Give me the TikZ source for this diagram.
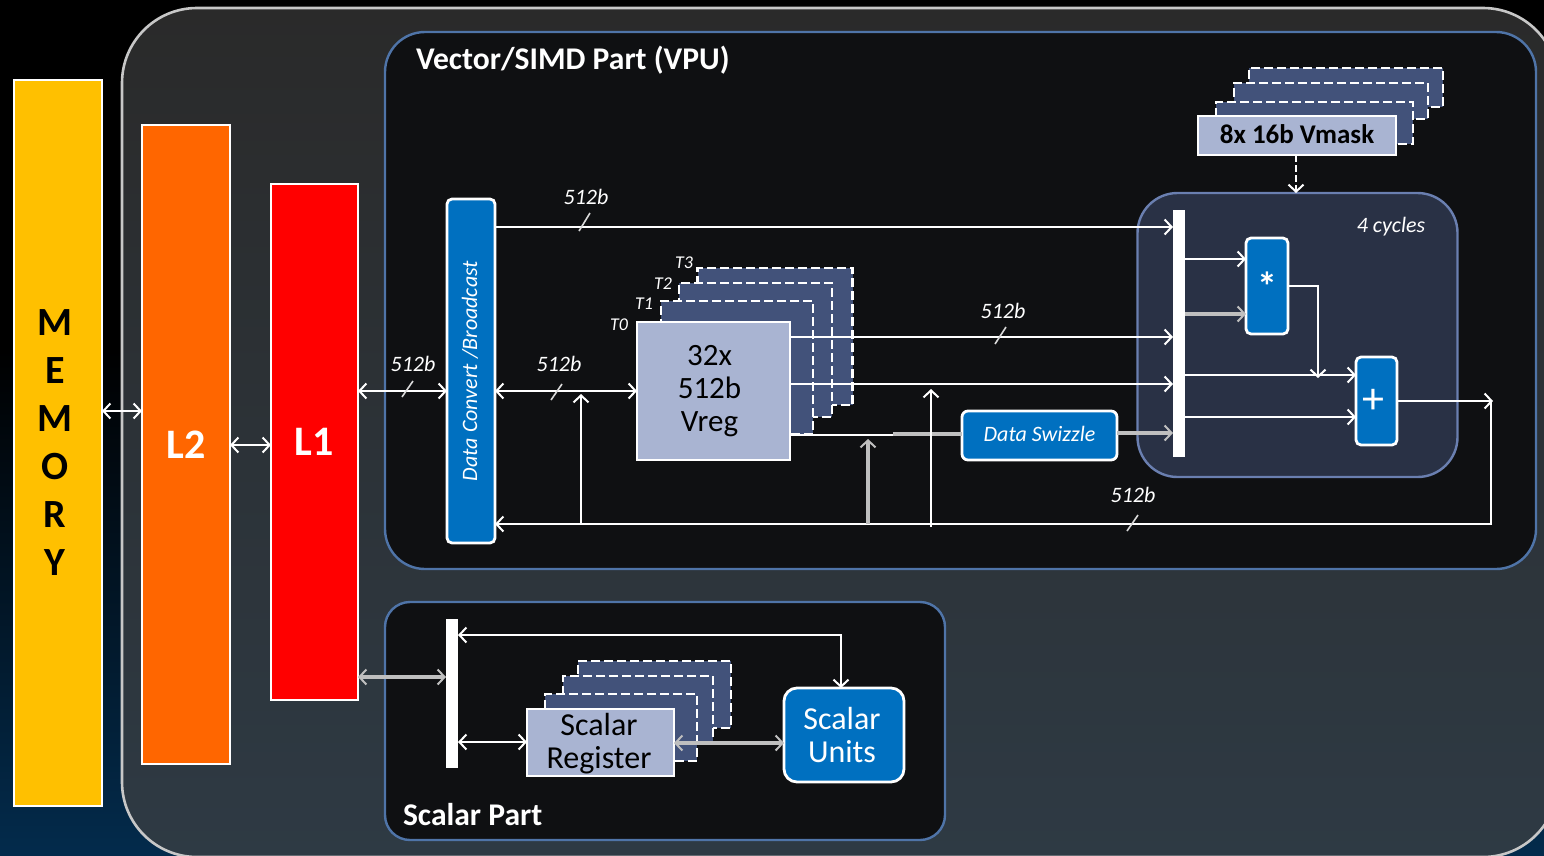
\documentclass[tikz,border=0pt]{standalone}
\usepackage{fontspec}
\setmainfont{Carlito}
\usetikzlibrary{arrows.meta,positioning}
\definecolor{simdgold}{HTML}{FFC000}
\definecolor{simdorange}{HTML}{FF6600}
\definecolor{simdred}{HTML}{FF0000}
\definecolor{simdblue}{HTML}{0070C0}
\definecolor{simdreg}{HTML}{A9B4D2}
\definecolor{simdstack}{HTML}{42527A}
\definecolor{simdpanel}{HTML}{0F1012}
\definecolor{simdedge}{HTML}{4F74A8}
\definecolor{simdfu}{HTML}{293145}
\definecolor{simdfuedge}{HTML}{6A7FB0}
\definecolor{simdcoretop}{HTML}{2A2A2A}
\definecolor{simdcorebot}{HTML}{2E3A44}
\definecolor{simdnavy}{HTML}{032B4C}
\tikzset{
  simd/.style={font=\fontsize{12}{14}\selectfont, text=white, inner sep=0pt, outer sep=0pt},
  bsize/.style 2 args={minimum width=#1pt, minimum height=#2pt},
  cachebox/.style={draw=white, line width=2.6pt, text=white, font=\fontsize{42}{46}\selectfont\bfseries},
  panelbox/.style={draw=simdedge, line width=2.4pt, fill=simdpanel},
  regbox/.style={draw=white, line width=2.8pt, fill=simdreg, text=black, align=center},
  stackbox/.style={draw=white, line width=2.8pt, dash pattern=on 9pt off 4pt, fill=simdstack},
  unitbox/.style={draw=white, line width=2.8pt, fill=simdblue, rounded corners=5pt, text=white, align=center},
  muxbar/.style={fill=white},
  wirearr/.style={-{Straight Barb[length=7pt,width=15pt,line width=2pt]}, line width=2.8pt, draw=white},
  wirebi/.style={{Straight Barb[length=7pt,width=15pt,line width=2pt]}-{Straight Barb[length=7pt,width=15pt,line width=2pt]}, line width=2.8pt, draw=white},
  wirefat/.style={line width=4pt, draw=white!75!black},
  wireplain/.style={line width=2.8pt, draw=white},
  buslbl/.style={font=\fontsize{22}{24}\selectfont\itshape},
  tlbl/.style={font=\fontsize{18}{20}\selectfont\itshape},
  titlelbl/.style={font=\fontsize{31.6}{34}\selectfont\bfseries, anchor=west},
  bustick/.style={line width=1.6pt, draw=white!85!black},
}
\begin{document}
\begin{tikzpicture}[simd, x=1pt, y=-1pt]
  \useasboundingbox (0,0) rectangle (1544,855);
  \clip (0,0) rectangle (1544,855);
  \fill[black] (0,0) rectangle (1544,351);
  \shade[top color=black, bottom color=simdnavy] (0,350) rectangle (1544,855);
  \node[bsize={1436}{849}, anchor=north west, rounded corners=75pt, draw=white!78!black, line width=2.6pt,
    top color=simdcoretop, bottom color=simdcorebot] (core) at (122,8) {};

  \node[cachebox, bsize={88}{726}, fill=simdgold] (mem) at (58,443) {};
  \node[align=center, text=black, font=\fontsize{40}{48}\selectfont\bfseries] (memtxt) at (55,443) {M\\E\\M\\O\\R\\Y};
  \node[cachebox, bsize={88}{639}, fill=simdorange] (ltwo) at (186,444.5) {L2\hspace{4pt}};
  \node[cachebox, bsize={87}{516}, fill=simdred] (lone) at (314.5,442) {L1\hspace{4pt}};

  \node[panelbox, bsize={1151}{537}, rounded corners=40pt] (vpu) at (960.5,300.5) {};
  \node[panelbox, bsize={560}{238}, rounded corners=25pt] (scalar) at (665,721) {};
  \node[titlelbl] (vputitle) at (416,60) {Vector/SIMD Part (VPU)};
  \node[titlelbl] (scalartitle) at (403,815) {Scalar Part};

  \node[draw=simdfuedge, line width=2.4pt, fill=simdfu, rounded corners=40pt, bsize={320}{284}] (fu) at (1297.5,335) {};
  \node[buslbl] (cycles) at (1391,227) {4 cycles};

  \node[unitbox, bsize={48}{344}] (conv) at (471,371) {};
  \node[rotate=90, font=\fontsize{22}{24}\selectfont\itshape] (convtxt) at (470,371) {Data Convert /Broadcast};

  \node[stackbox, bsize={155}{137}] (vthree) at (775,336.5) {};
  \node[stackbox, bsize={153}{134}] (vtwo) at (755.5,350) {};
  \node[stackbox, bsize={152}{133}] (vone) at (737,367.5) {};
  \node[regbox, bsize={153}{138}] (vreg) at (713.5,391) {};
  \node[align=center, text=black, font=\fontsize{31}{33}\selectfont] (vregtxt) at (709.5,391) {32x\\512b\\Vreg};
  \node[tlbl] (tthree) at (684,263) {T3};
  \node[tlbl] (ttwo) at (663,284) {T2};
  \node[tlbl] (tone) at (644,304) {T1};
  \node[tlbl] (tzero) at (619,325) {T0};

  \node[stackbox, bsize={194}{39}] (mthree) at (1346,87.5) {};
  \node[stackbox, bsize={194}{36}] (mtwo) at (1331,101) {};
  \node[stackbox, bsize={197}{42}] (mone) at (1314.5,123) {};
  \node[regbox, bsize={198}{39}, font=\fontsize{27}{29}\selectfont\bfseries] (vmask) at (1297,135.5) {\raisebox{2pt}{8x 16b Vmask}};

  \node[muxbar, bsize={12}{247}] (muxv) at (1179,333.5) {};
  \node[unitbox, bsize={42}{96}, font=\fontsize{40}{42}\selectfont\bfseries] (mul) at (1267,286) {\raisebox{-8pt}{*}};
  \node[unitbox, bsize={41}{88}, font=\fontsize{44}{46}\selectfont] (add) at (1376.5,401) {\raisebox{-3pt}{+}\hspace{6pt}};
  \node[unitbox, bsize={155}{49}, rounded corners=6pt, font=\fontsize{22}{24}\selectfont\itshape] (swiz) at (1039.5,435.5) {\raisebox{3pt}{Data Swizzle}};

  \node[muxbar, bsize={12}{149}] (muxs) at (452,693.5) {};
  \node[stackbox, bsize={153}{67}] (sthree) at (654.5,694.5) {};
  \node[stackbox, bsize={150}{67}] (stwo) at (638,709.5) {};
  \node[stackbox, bsize={152}{67}] (sone) at (621,727.5) {};
  \node[regbox, bsize={147}{67}] (sreg) at (600.5,742.5) {};
  \node[align=center, text=black, font=\fontsize{32}{33}\selectfont] (sregtxt) at (599,744) {Scalar\\Register};
  \node[unitbox, bsize={120}{94}, rounded corners=13pt] (sunits) at (844,735) {};
  \node[align=center, font=\fontsize{32}{33}\selectfont] (sunitstxt) at (842,735) {Scalar\\Units};

  \draw[wirebi] (mem.east |- 0,411) -- (ltwo.west |- 0,411);
  \draw[wirebi] (ltwo.east |- 0,445) -- (lone.west |- 0,445);
  \draw[wirebi] (lone.east |- 0,391) -- (conv.west |- 0,391);
  \draw[wirebi] (conv.east |- 0,391) -- (vreg.west |- 0,391);
  \draw[wirearr] (conv.east |- 0,227) -- (muxv.west |- 0,227);
  \draw[wirearr] (vreg.east |- 0,337) -- (muxv.west |- 0,337);
  \draw[wirearr] (vreg.east |- 0,384) -- (muxv.west |- 0,384);
  \draw[wireplain] (vreg.east |- 0,435) -- (893,435);
  \draw[wirefat] (893,434) -- (swiz.west |- 0,434);
  \draw[wirearr, wirefat] (swiz.east |- 0,433) -- (muxv.west |- 0,433);
  \draw[wirearr] (muxv.east |- 0,259) -- (mul.west |- 0,259);
  \draw[wirearr, wirefat] (muxv.east |- 0,314) -- (mul.west |- 0,314);
  \draw[wirearr] (muxv.east |- 0,375) -- (add.west |- 0,375);
  \draw[wirearr] (muxv.east |- 0,417) -- (add.west |- 0,417);
  \draw[wirearr] (mul.east |- 0,286) -| (1318,378);
  \draw[wirearr] (add.east) -- (1493,401);
  \draw[wirearr] (1491,401) |- (conv.east |- 0,524);
  \draw[wirearr] (581,524) -- (581,394);
  \draw[wirearr, wirefat] (868,524) -- (868,439);
  \draw[wirearr] (931,527) -- (931,389);
  \draw[wirearr, dash pattern=on 7pt off 3pt] (vmask.south -| 1296,0) -- (fu.north -| 1296,0);

  \draw[wirebi, wirefat] (lone.east |- 0,677) -- (muxs.west |- 0,677);
  \draw[wirebi] (muxs.east |- 0,742) -- (sreg.west |- 0,742);
  \draw[wirebi, wirefat] (sreg.east |- 0,743) -- (sunits.west |- 0,743);
  \draw[wirebi] (muxs.east |- 0,635) -| (sunits.north -| 841,0);

  \node[buslbl] (bustop) at (586,197) {512b};
  \node[buslbl] (busleft) at (413,364) {512b};
  \node[buslbl] (busvreg) at (559,364) {512b};
  \node[buslbl] (busout) at (1003,311) {512b};
  \node[buslbl] (busback) at (1133,495) {512b};
  \draw[bustick] (579,231) -- (590,213);
  \draw[bustick] (402,397) -- (413,381);
  \draw[bustick] (551,400) -- (562,384);
  \draw[bustick] (995,344) -- (1006,327);
  \draw[bustick] (1127,531) -- (1138,515);
\end{tikzpicture}
\end{document}
